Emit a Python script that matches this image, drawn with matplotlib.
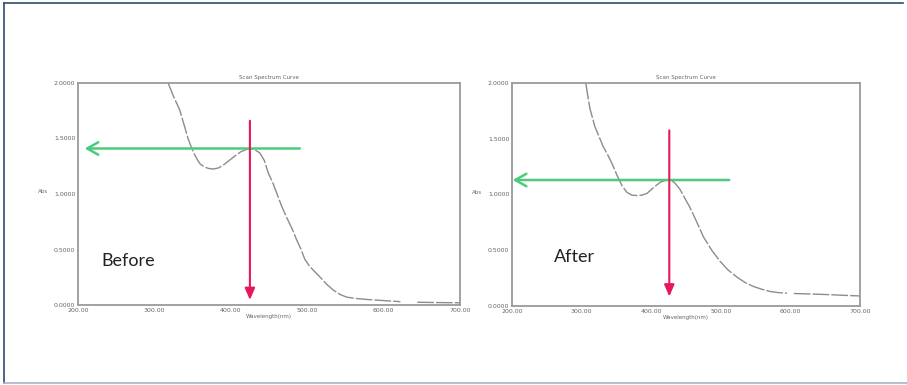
import matplotlib.pyplot as plt
from matplotlib.lines import Line2D

# spectrum before treatment (wavelength nm, absorbance)
wl_before = [318, 325, 333, 339, 344, 349, 353, 357, 360, 365, 371, 377, 384, 392, 403, 413, 420, 425,
             431, 438, 444, 449, 455, 460, 466, 473, 480, 486, 492, 497, 503, 510, 517, 525, 534, 543,
             552, 565, 578, 600, 622]
abs_before = [2.00, 1.88, 1.76, 1.62, 1.50, 1.41, 1.35, 1.30, 1.27, 1.245, 1.23, 1.225, 1.235, 1.27, 1.33, 1.38,
              1.40, 1.41, 1.40, 1.37, 1.30, 1.19, 1.10, 1.01, 0.90, 0.79, 0.69, 0.59, 0.50, 0.41, 0.35,
              0.30, 0.25, 0.19, 0.135, 0.095, 0.07, 0.058, 0.05, 0.04, 0.03]
wl_before_tail = [644, 670, 700]
abs_before_tail = [0.025, 0.022, 0.02]

# spectrum after treatment
wl_after = [306, 309, 312, 316, 319, 325, 331, 338, 345, 351, 358, 365, 372, 380, 387, 394, 403, 413,
            420, 426, 433, 441, 448, 456, 465, 475, 487, 499, 511, 523, 535, 547, 559, 571, 583, 595]
abs_after = [2.00, 1.88, 1.77, 1.68, 1.61, 1.52, 1.43, 1.35, 1.26, 1.17, 1.08, 1.02, 0.995, 0.99, 0.995, 1.01,
             1.06, 1.11, 1.125, 1.13, 1.11, 1.05, 0.97, 0.88, 0.76, 0.62, 0.50, 0.40, 0.32, 0.26, 0.21,
             0.175, 0.15, 0.13, 0.12, 0.115]
wl_after_tail = [605, 643, 680, 700]
abs_after_tail = [0.112, 0.105, 0.095, 0.09]

# arrow markers: peak wavelength and absorbance, green arrow extents
peak_wl = [425, 426]
peak_abs = [1.41, 1.13]
green_start = [494, 516]
green_end = [205, 197]
pink_top = [1.685, 1.60]
pink_bottom = [0.02, 0.06]
labels = ["Before", "After"]
label_pos = [(231, 0.40), (260, 0.44)]

xticks = [200, 300, 400, 500, 600, 700]
yticks = [0.0, 0.5, 1.0, 1.5, 2.0]

fig = plt.figure(figsize=(9.07, 3.85), dpi=100)

# slide frame
fig.add_artist(Line2D([4/907, 4/907], [1-3/385, 1-383/385], color="#2f4b74", lw=1.2))
fig.add_artist(Line2D([4/907, 903/907], [1-3/385, 1-3/385], color="#2f4b74", lw=1.2))
fig.add_artist(Line2D([4/907, 1.0], [1-383/385, 1-383/385], color="#a9b4c8", lw=1.2))

ax1 = fig.add_axes([78/907, 1-305/385, (460-78)/907, (305-83)/385])
ax2 = fig.add_axes([512/907, 1-306/385, (860-512)/907, (306-83)/385])

curves = [(wl_before, abs_before, wl_before_tail, abs_before_tail),
          (wl_after, abs_after, wl_after_tail, abs_after_tail)]

for i, ax in enumerate([ax1, ax2]):
    wl, ab, wlt, abt = curves[i]
    ax.plot(wl, ab, color="#8c8c8c", lw=1.0, ls=(0, (12, 1.5)))
    ax.plot(wlt, abt, color="#8c8c8c", lw=1.0, ls=(0, (12, 1.5)))
    ax.set_xlim(200, 700)
    ax.set_ylim(0, 2)
    ax.set_xticks(xticks)
    ax.set_xticklabels([f"{t:.2f}" for t in xticks])
    ax.set_yticks(yticks)
    ax.set_yticklabels([f"{t:.4f}" for t in yticks])
    ax.tick_params(length=0, labelsize=4.5, colors="#666666", pad=2)
    for s in ax.spines.values():
        s.set_color("#9a9a9a")
        s.set_linewidth(1.3)
    ax.set_title("Scan Spectrum Curve", fontsize=4, color="#666666", pad=3)
    ax.set_xlabel("Wavelength(nm)", fontsize=4, color="#666666", labelpad=1)
    ax.set_ylabel("Abs", fontsize=4, color="#666666", rotation=0, labelpad=8)

    ax.annotate("", xy=(green_end[i], peak_abs[i]), xytext=(green_start[i], peak_abs[i]),
                arrowprops=dict(arrowstyle="->,head_length=0.8,head_width=0.45", color="#4dcb7d", lw=1.8),
                annotation_clip=False)
    ax.annotate("", xy=(peak_wl[i], pink_bottom[i]), xytext=(peak_wl[i], pink_top[i]),
                arrowprops=dict(arrowstyle="-|>,head_length=0.7,head_width=0.3", color="#e8175d", lw=1.5),
                annotation_clip=False)
    ax.text(label_pos[i][0], label_pos[i][1], labels[i], fontsize=13, family="Lato",
            color="#222222", va="center", ha="left")

plt.savefig("out.png", dpi=100)
